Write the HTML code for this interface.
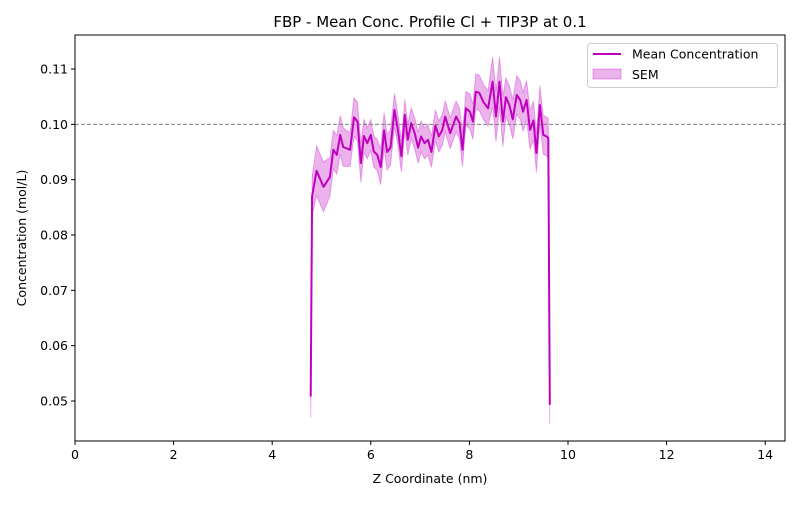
<!DOCTYPE html>
<html><head><meta charset="utf-8"><style>
body{margin:0;background:#fff;font-family:"Liberation Sans","DejaVu Sans",sans-serif}
svg text{font-family:"DejaVu Sans","Liberation Sans",sans-serif;fill:#000}
</style></head><body>
<svg id="chart" width="800" height="500" viewBox="0 0 800 500">
<rect width="800" height="500" fill="#fff"/>
<text x="430" y="27" font-size="15" text-anchor="middle">FBP - Mean Conc. Profile Cl + TIP3P at 0.1</text>
<g id="plot"></g>
<text x="430" y="483" font-size="12.5" text-anchor="middle">Z Coordinate (nm)</text>
<text transform="translate(26,238) rotate(-90)" font-size="12.5" text-anchor="middle">Concentration (mol/L)</text>
<g>
<rect x="587.5" y="43.5" width="190" height="44" rx="3" fill="#fff" stroke="#ccc"/>
<line x1="593" y1="54" x2="621" y2="54" stroke="#bf00bf" stroke-width="2"/>
<text x="632" y="58.5" font-size="12.5">Mean Concentration</text>
<rect x="593" y="69" width="28" height="10" fill="#bf00bf" fill-opacity="0.3" stroke="#bf00bf" stroke-opacity="0.3"/>
<text x="632" y="79" font-size="12.5">SEM</text>
</g>
</svg>
<script>
const zValues=[4.78,4.81,4.90,5.04,5.17,5.24,5.31,5.38,5.44,5.58,5.66,5.73,5.80,5.86,5.93,6.00,6.06,6.13,6.20,6.27,6.33,6.40,6.48,6.55,6.62,6.69,6.75,6.82,6.89,6.96,7.02,7.09,7.16,7.23,7.31,7.38,7.45,7.51,7.61,7.73,7.80,7.86,7.93,8.01,8.07,8.13,8.20,8.28,8.38,8.47,8.54,8.61,8.68,8.74,8.81,8.88,8.96,9.03,9.09,9.16,9.23,9.30,9.36,9.43,9.50,9.57,9.60,9.63];
const meanValues=[0.0508,0.087,0.0916,0.0887,0.0905,0.0954,0.0945,0.0981,0.0959,0.0954,0.1013,0.1005,0.0930,0.0979,0.0966,0.0981,0.0951,0.0945,0.0923,0.0989,0.0950,0.0958,0.1026,0.0990,0.0942,0.1017,0.0972,0.1002,0.0984,0.0958,0.0978,0.0966,0.0972,0.0950,0.0998,0.0978,0.0990,0.1014,0.0984,0.1014,0.1002,0.0954,0.1029,0.1023,0.1005,0.1059,0.1057,0.1041,0.1029,0.1077,0.1014,0.1077,0.1005,0.1049,0.1035,0.1009,0.1053,0.1044,0.1023,0.1044,0.0990,0.1007,0.0948,0.1035,0.0981,0.0978,0.0975,0.0493];
const semValues=[0.0038,0.0035,0.0045,0.0045,0.0035,0.0035,0.0035,0.0035,0.0035,0.003,0.0035,0.0035,0.0035,0.003,0.0028,0.0028,0.0028,0.0028,0.0032,0.0032,0.0032,0.0032,0.003,0.0028,0.0028,0.0028,0.0028,0.0028,0.0028,0.0028,0.0028,0.0028,0.0028,0.0028,0.0028,0.0028,0.0028,0.0028,0.0028,0.0028,0.0028,0.003,0.003,0.0032,0.0032,0.0032,0.0032,0.0032,0.0032,0.0045,0.0045,0.0045,0.0045,0.0035,0.0035,0.0035,0.0035,0.0035,0.0035,0.0035,0.0035,0.0035,0.0035,0.0035,0.0035,0.0035,0.0035,0.0035];
const xTicks=[0,2,4,6,8,10,12,14];
const yTicks=[0.05,0.06,0.07,0.08,0.09,0.10,0.11];
const refLevel=0.1;
const L=75,R=785,T=35,B=441;
const X=v=>L+v*49.3;
const Y=v=>401-(v-0.05)*5533;
const ns="http://www.w3.org/2000/svg";
const plot=document.getElementById('plot');
function mk(tag,attrs,parent){const e=document.createElementNS(ns,tag);for(const k in attrs)e.setAttribute(k,attrs[k]);(parent||plot).appendChild(e);return e;}
let up=zValues.map((z,i)=>X(z).toFixed(1)+','+Y(meanValues[i]+semValues[i]).toFixed(1));
let lo=zValues.map((z,i)=>X(z).toFixed(1)+','+Y(meanValues[i]-semValues[i]).toFixed(1)).reverse();
const band=mk('polygon',{points:up.concat(lo).join(' '),fill:'#bf00bf','fill-opacity':0.3,stroke:'#bf00bf','stroke-opacity':0.3});


const ref=mk('line',{x1:L,x2:R,y1:Y(refLevel),y2:Y(refLevel),stroke:'#808080','stroke-width':1,'stroke-dasharray':'4,2'});


const line=mk('polyline',{points:zValues.map((z,i)=>X(z).toFixed(1)+','+Y(meanValues[i]).toFixed(1)).join(' '),fill:'none',stroke:'#bf00bf','stroke-width':2,'stroke-linejoin':'round'});


const frame=mk('rect',{x:L,y:T,width:R-L,height:B-T,fill:'none',stroke:'#000','stroke-width':1});


xTicks.forEach(t=>{
  const tk=mk('line',{x1:X(t),x2:X(t),y1:B,y2:B+4,stroke:'#000'});
  
  
  const tx=mk('text',{x:X(t),y:B+18,'font-size':12.5,'text-anchor':'middle'});
  tx.textContent=t;
  
  
});
yTicks.forEach(t=>{
  const tk=mk('line',{x1:L-4,x2:L,y1:Y(t),y2:Y(t),stroke:'#000'});
  
  
  const tx=mk('text',{x:L-7,y:Y(t)+4.5,'font-size':12.5,'text-anchor':'end'});
  tx.textContent=t.toFixed(2);
  
  
});
</script>
</body></html>
